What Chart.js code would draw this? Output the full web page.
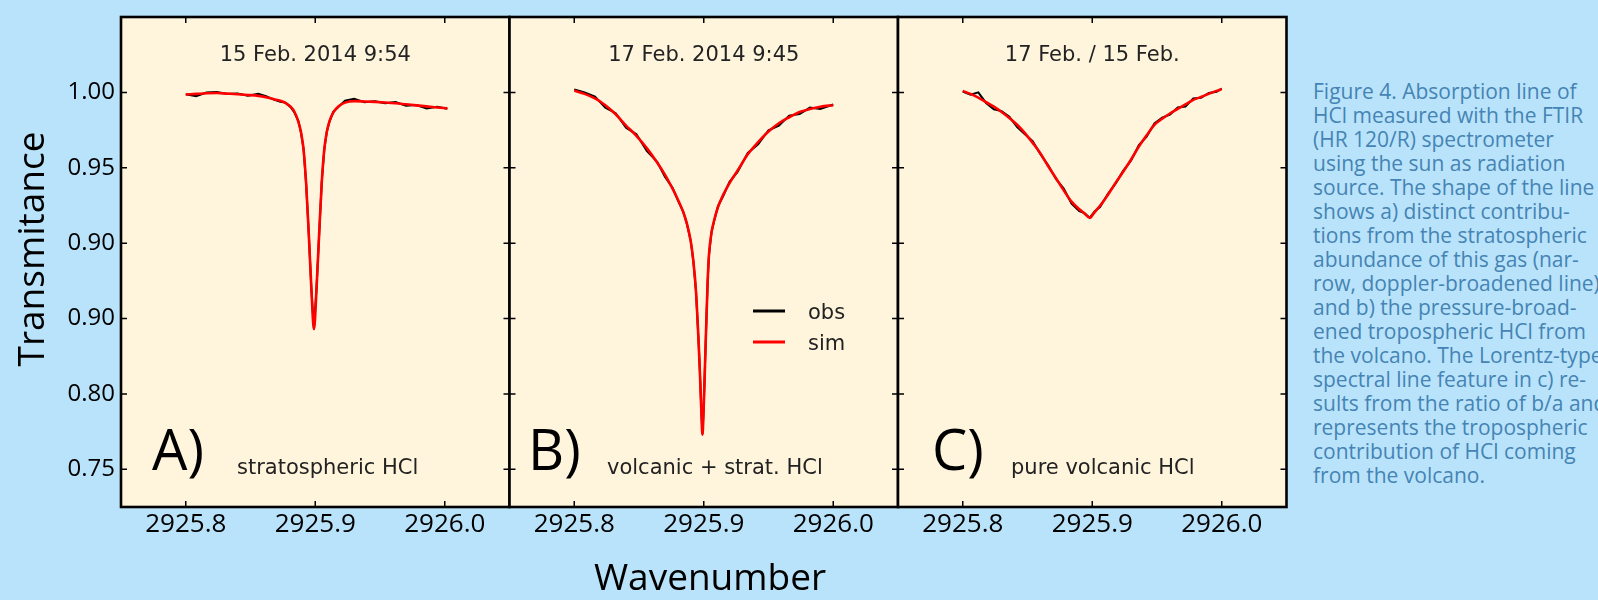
<!DOCTYPE html>
<html>
<head>
<meta charset="utf-8">
<script src="https://cdn.jsdelivr.net/npm/chart.js@4.4.1/dist/chart.umd.min.js"></script>
<style>
html, body { margin: 0; padding: 0; width: 1598px; height: 600px; overflow: hidden; background: #B9E3FA; }
canvas { position: absolute; top: 0; }
#caption { position: absolute; left: 1313px; top: 79px; font-family: 'Open Sans', sans-serif; font-size: 21px; line-height: 24px; color: #4584B4; white-space: nowrap; }
</style>
</head>
<body>
<canvas id="cA" width="512" height="600" style="left:0px"></canvas>
<canvas id="cB" width="400" height="600" style="left:500px"></canvas>
<canvas id="cC" width="400" height="600" style="left:889px"></canvas>
<div id="caption">Figure 4. Absorption line of<br>HCl measured with the FTIR<br>(HR 120/R) spectrometer<br>using the sun as radiation<br>source. The shape of the line<br>shows a) distinct contribu-<br>tions from the stratospheric<br>abundance of this gas (nar-<br>row, doppler-broadened line)<br>and b) the pressure-broad-<br>ened tropospheric HCl from<br>the volcano. The Lorentz-type<br>spectral line feature in c) re-<br>sults from the ratio of b/a and<br>represents the tropospheric<br>contribution of HCl coming<br>from the volcano.</div>
<script>
// ---------------- DATA ----------------
const xTickValues = [2925.8, 2925.9, 2926.0];
const yTickValues = [1.00, 0.95, 0.90, 0.85, 0.80, 0.75];
const yTickLabels = ['1.00', '0.95', '0.90', '0.90', '0.80', '0.75'];

const panelTitles = ['15 Feb. 2014 9:54', '17 Feb. 2014 9:45', '17 Feb. / 15 Feb.'];
const panelLetters = ['A)', 'B)', 'C)'];
const panelNotes = ['stratospheric HCl', 'volcanic + strat. HCl', 'pure volcanic HCl'];
const seriesNames = ['obs', 'sim'];
const xAxisTitle = 'Wavenumber';
const yAxisTitle = 'Transmitance';

// Panel A : 15 Feb
const wavenumberA = [2925.800, 2925.808, 2925.816, 2925.824, 2925.832, 2925.840, 2925.848, 2925.856, 2925.862, 2925.868,
  2925.873, 2925.877, 2925.881, 2925.884, 2925.887, 2925.889, 2925.891, 2925.893, 2925.895, 2925.897,
  2925.899, 2925.901, 2925.903, 2925.905, 2925.907, 2925.909, 2925.911, 2925.914, 2925.918, 2925.923,
  2925.930, 2925.938, 2925.946, 2925.954, 2925.962, 2925.970, 2925.978, 2925.986, 2925.994, 2926.002];
const simA = [0.9986, 0.9990, 0.9994, 0.9996, 0.9992, 0.9988, 0.9983, 0.9977, 0.9968, 0.9955,
  0.9945, 0.9930, 0.9905, 0.9870, 0.9805, 0.9735, 0.9620, 0.9390, 0.9060, 0.8700,
  0.8430, 0.8700, 0.9060, 0.9400, 0.9625, 0.9740, 0.9810, 0.9868, 0.9908, 0.9932,
  0.9942, 0.9940, 0.9937, 0.9933, 0.9928, 0.9921, 0.9914, 0.9907, 0.9900, 0.9894];
const obsA = [0.9988, 0.9975, 0.9999, 1.0003, 0.9990, 0.9993, 0.9978, 0.9990, 0.9974, 0.9952,
  0.9938, 0.9932, 0.9902, 0.9865, 0.9809, 0.9733, 0.9622, 0.9386, 0.9065, 0.8695,
  0.8428, 0.8706, 0.9054, 0.9403, 0.9622, 0.9744, 0.9806, 0.9872, 0.9905, 0.9945,
  0.9958, 0.9935, 0.9941, 0.9928, 0.9936, 0.9912, 0.9916, 0.9893, 0.9904, 0.9891];

// Panel B : 17 Feb
const wavenumberB = [2925.800, 2925.808, 2925.816, 2925.824, 2925.832, 2925.840, 2925.848, 2925.856, 2925.864, 2925.870,
  2925.876, 2925.880, 2925.884, 2925.887, 2925.890, 2925.892, 2925.894, 2925.896, 2925.897, 2925.898,
  2925.899, 2925.900, 2925.901, 2925.902, 2925.903, 2925.904, 2925.906, 2925.908, 2925.911, 2925.915,
  2925.920, 2925.926, 2925.934, 2925.942, 2925.950, 2925.958, 2925.966, 2925.974, 2925.982, 2925.990, 2926.000];
const simB = [1.0012, 0.9990, 0.9960, 0.9915, 0.9855, 0.9780, 0.9712, 0.9630, 0.9535, 0.9455,
  0.9360, 0.9290, 0.9210, 0.9130, 0.9010, 0.8880, 0.8680, 0.8350, 0.8150, 0.7920,
  0.7730, 0.7920, 0.8200, 0.8480, 0.8740, 0.8920, 0.9070, 0.9150, 0.9240, 0.9320,
  0.9400, 0.9480, 0.9590, 0.9670, 0.9740, 0.9795, 0.9835, 0.9870, 0.9890, 0.9905, 0.9915];
const obsB = [1.0020, 1.0000, 0.9972, 0.9898, 0.9862, 0.9766, 0.9722, 0.9612, 0.9540, 0.9440,
  0.9366, 0.9284, 0.9213, 0.9127, 0.9012, 0.8877, 0.8683, 0.8346, 0.8154, 0.7917,
  0.7733, 0.7916, 0.8204, 0.8476, 0.8744, 0.8916, 0.9074, 0.9146, 0.9245, 0.9313,
  0.9408, 0.9471, 0.9598, 0.9655, 0.9749, 0.9780, 0.9846, 0.9856, 0.9899, 0.9890, 0.9920];

// Panel C : ratio 17 Feb / 15 Feb
const wavenumberC = [2925.800, 2925.806, 2925.812, 2925.818, 2925.824, 2925.830, 2925.836, 2925.842, 2925.848, 2925.854,
  2925.860, 2925.866, 2925.872, 2925.878, 2925.884, 2925.890, 2925.894, 2925.898, 2925.902, 2925.906,
  2925.912, 2925.918, 2925.924, 2925.930, 2925.936, 2925.942, 2925.948, 2925.954, 2925.960, 2925.966,
  2925.972, 2925.978, 2925.984, 2925.990, 2925.996, 2926.000];
const simC = [1.0010, 0.9990, 0.9965, 0.9935, 0.9905, 0.9870, 0.9830, 0.9785, 0.9730, 0.9665,
  0.9595, 0.9510, 0.9430, 0.9350, 0.9275, 0.9225, 0.9197, 0.9168, 0.9208, 0.9248,
  0.9320, 0.9400, 0.9475, 0.9555, 0.9640, 0.9715, 0.9785, 0.9825, 0.9860, 0.9890,
  0.9920, 0.9950, 0.9970, 0.9990, 1.0010, 1.0022];
const obsC = [1.0006, 0.9985, 1.0000, 0.9930, 0.9888, 0.9876, 0.9838, 0.9770, 0.9722, 0.9676,
  0.9590, 0.9516, 0.9426, 0.9362, 0.9262, 0.9213, 0.9199, 0.9168, 0.9212, 0.9240,
  0.9326, 0.9395, 0.9481, 0.9548, 0.9650, 0.9707, 0.9794, 0.9833, 0.9852, 0.9900,
  0.9906, 0.9960, 0.9964, 0.9996, 1.0004, 1.0025];

// ---------------- STYLE / LAYOUT ----------------
const X_MIN = 2925.75, X_MAX = 2926.05, Y_MIN = 0.725, Y_MAX = 1.05;
const PLOT_BG = '#FEF5DC';
const TEXT_DARK = '#222222';

const panelStyles = [
  { canvas: 'cA', pad: { left: 0, right: 2.5, top: 17, bottom: 0 }, yLabels: true, letterX: 152, noteX: 237, legend: false, xTitle: false, yTitle: true, canvasLeft: 0 },
  { canvas: 'cB', pad: { left: 9.5, right: 2, top: 17, bottom: 0 }, yLabels: false, letterX: 528, noteX: 607, legend: true, xTitle: true, yTitle: false, canvasLeft: 500 },
  { canvas: 'cC', pad: { left: 9, right: 2.5, top: 17, bottom: 0 }, yLabels: false, letterX: 932, noteX: 1011, legend: false, xTitle: false, yTitle: false, canvasLeft: 889 }
];

const panelData = [
  { x: wavenumberA, obs: obsA, sim: simA },
  { x: wavenumberB, obs: obsB, sim: simB },
  { x: wavenumberC, obs: obsC, sim: simC }
];

const decorPlugin = {
  id: 'panelDecor',
  beforeDraw(chart, args, opts) {
    const { ctx, chartArea: a } = chart;
    ctx.save();
    ctx.fillStyle = PLOT_BG;
    ctx.fillRect(a.left, a.top, a.right - a.left, a.bottom - a.top);
    ctx.restore();
  },
  afterDatasetsDraw(chart, args, opts) {
    const { ctx, chartArea: a } = chart;
    const xs = chart.scales.x, ys = chart.scales.y;
    const st = panelStyles[opts.idx];
    const off = st.canvasLeft;
    ctx.save();
    // inward ticks
    ctx.strokeStyle = '#000';
    ctx.lineWidth = 1.5;
    ctx.beginPath();
    xTickValues.forEach(v => {
      const px = xs.getPixelForValue(v);
      ctx.moveTo(px, a.top); ctx.lineTo(px, a.top + 6);
      ctx.moveTo(px, a.bottom); ctx.lineTo(px, a.bottom - 6);
    });
    yTickValues.forEach(v => {
      const py = ys.getPixelForValue(v);
      ctx.moveTo(a.left, py); ctx.lineTo(a.left + 6, py);
      ctx.moveTo(a.right, py); ctx.lineTo(a.right - 6, py);
    });
    ctx.stroke();
    // frame
    ctx.lineWidth = 2.6;
    ctx.strokeRect(a.left, a.top, a.right - a.left, a.bottom - a.top);

    // panel title
    ctx.fillStyle = TEXT_DARK;
    ctx.font = '21px "DejaVu Sans"';
    ctx.textAlign = 'center';
    ctx.textBaseline = 'alphabetic';
    ctx.fillText(panelTitles[opts.idx], (a.left + a.right) / 2, 61);
    // letter
    ctx.fillStyle = '#000';
    ctx.textAlign = 'left';
    ctx.font = '56px "Open Sans"';
    ctx.fillText(panelLetters[opts.idx], st.letterX - off, 470);
    // note
    ctx.fillStyle = TEXT_DARK;
    ctx.font = '21px "DejaVu Sans"';
    ctx.fillText(panelNotes[opts.idx], st.noteX - off, 474);

    // legend
    if (st.legend) {
      const ds = chart.data.datasets;
      const rows = [{ name: seriesNames[0], color: ds[0].borderColor, y: 311 }, { name: seriesNames[1], color: ds[1].borderColor, y: 342 }];
      rows.forEach(r => {
        ctx.strokeStyle = r.color;
        ctx.lineWidth = 3;
        ctx.beginPath();
        ctx.moveTo(753 - off, r.y); ctx.lineTo(785 - off, r.y);
        ctx.stroke();
        ctx.fillStyle = TEXT_DARK;
        ctx.font = '21px "DejaVu Sans"';
        ctx.textAlign = 'left';
        ctx.fillText(r.name, 808 - off, r.y + 7.5);
      });
    }
    // axis titles
    ctx.fillStyle = '#000';
    ctx.font = '37px "Open Sans"';
    if (st.xTitle) {
      ctx.textAlign = 'center';
      ctx.fillText(xAxisTitle, 710 - off, 590);
    }
    if (st.yTitle) {
      ctx.translate(44 - off, 249);
      ctx.rotate(-Math.PI / 2);
      ctx.textAlign = 'center';
      ctx.fillText(yAxisTitle, 0, 0);
    }
    ctx.restore();
  }
};

function zeroPad(s) { s.paddingTop = 0; s.paddingBottom = 0; s.paddingLeft = 0; s.paddingRight = 0; }

panelStyles.forEach((st, i) => {
  const d = panelData[i];
  new Chart(document.getElementById(st.canvas), {
    type: 'line',
    data: {
      datasets: [
        { label: seriesNames[0], data: d.x.map((x, k) => ({ x, y: d.obs[k] })), borderColor: '#000000', borderWidth: 2, pointRadius: 0, tension: 0, order: 2 },
        { label: seriesNames[1], data: d.x.map((x, k) => ({ x, y: d.sim[k] })), borderColor: '#FF0000', borderWidth: 2.6, pointRadius: 0, cubicInterpolationMode: 'monotone', order: 1 }
      ]
    },
    options: {
      responsive: false,
      animation: false,
      devicePixelRatio: 1,
      layout: { padding: st.pad },
      plugins: {
        legend: { display: false },
        tooltip: { enabled: false },
        panelDecor: { idx: i }
      },
      scales: {
        x: {
          type: 'linear', min: X_MIN, max: X_MAX,
          afterBuildTicks: s => { s.ticks = xTickValues.map(v => ({ value: v })); },
          afterFit: s => { s.height = 93; zeroPad(s); },
          grid: { display: false, drawTicks: false },
          border: { display: false },
          ticks: { callback: v => Number(v).toFixed(1), color: '#000', font: { family: 'Open Sans', size: 26 }, padding: 2, maxRotation: 0, autoSkip: false }
        },
        y: {
          type: 'linear', min: Y_MIN, max: Y_MAX,
          display: st.yLabels,
          afterBuildTicks: s => { s.ticks = yTickValues.map(v => ({ value: v })); },
          afterFit: s => { if (st.yLabels) s.width = 121; zeroPad(s); },
          grid: { display: false, drawTicks: false },
          border: { display: false },
          ticks: { callback: v => yTickLabels[yTickValues.findIndex(t => Math.abs(t - v) < 1e-9)], color: '#000', font: { family: 'Open Sans', size: 24 }, padding: 6, autoSkip: false }
        }
      }
    },
    plugins: [decorPlugin]
  });
});
</script>
</body>
</html>
